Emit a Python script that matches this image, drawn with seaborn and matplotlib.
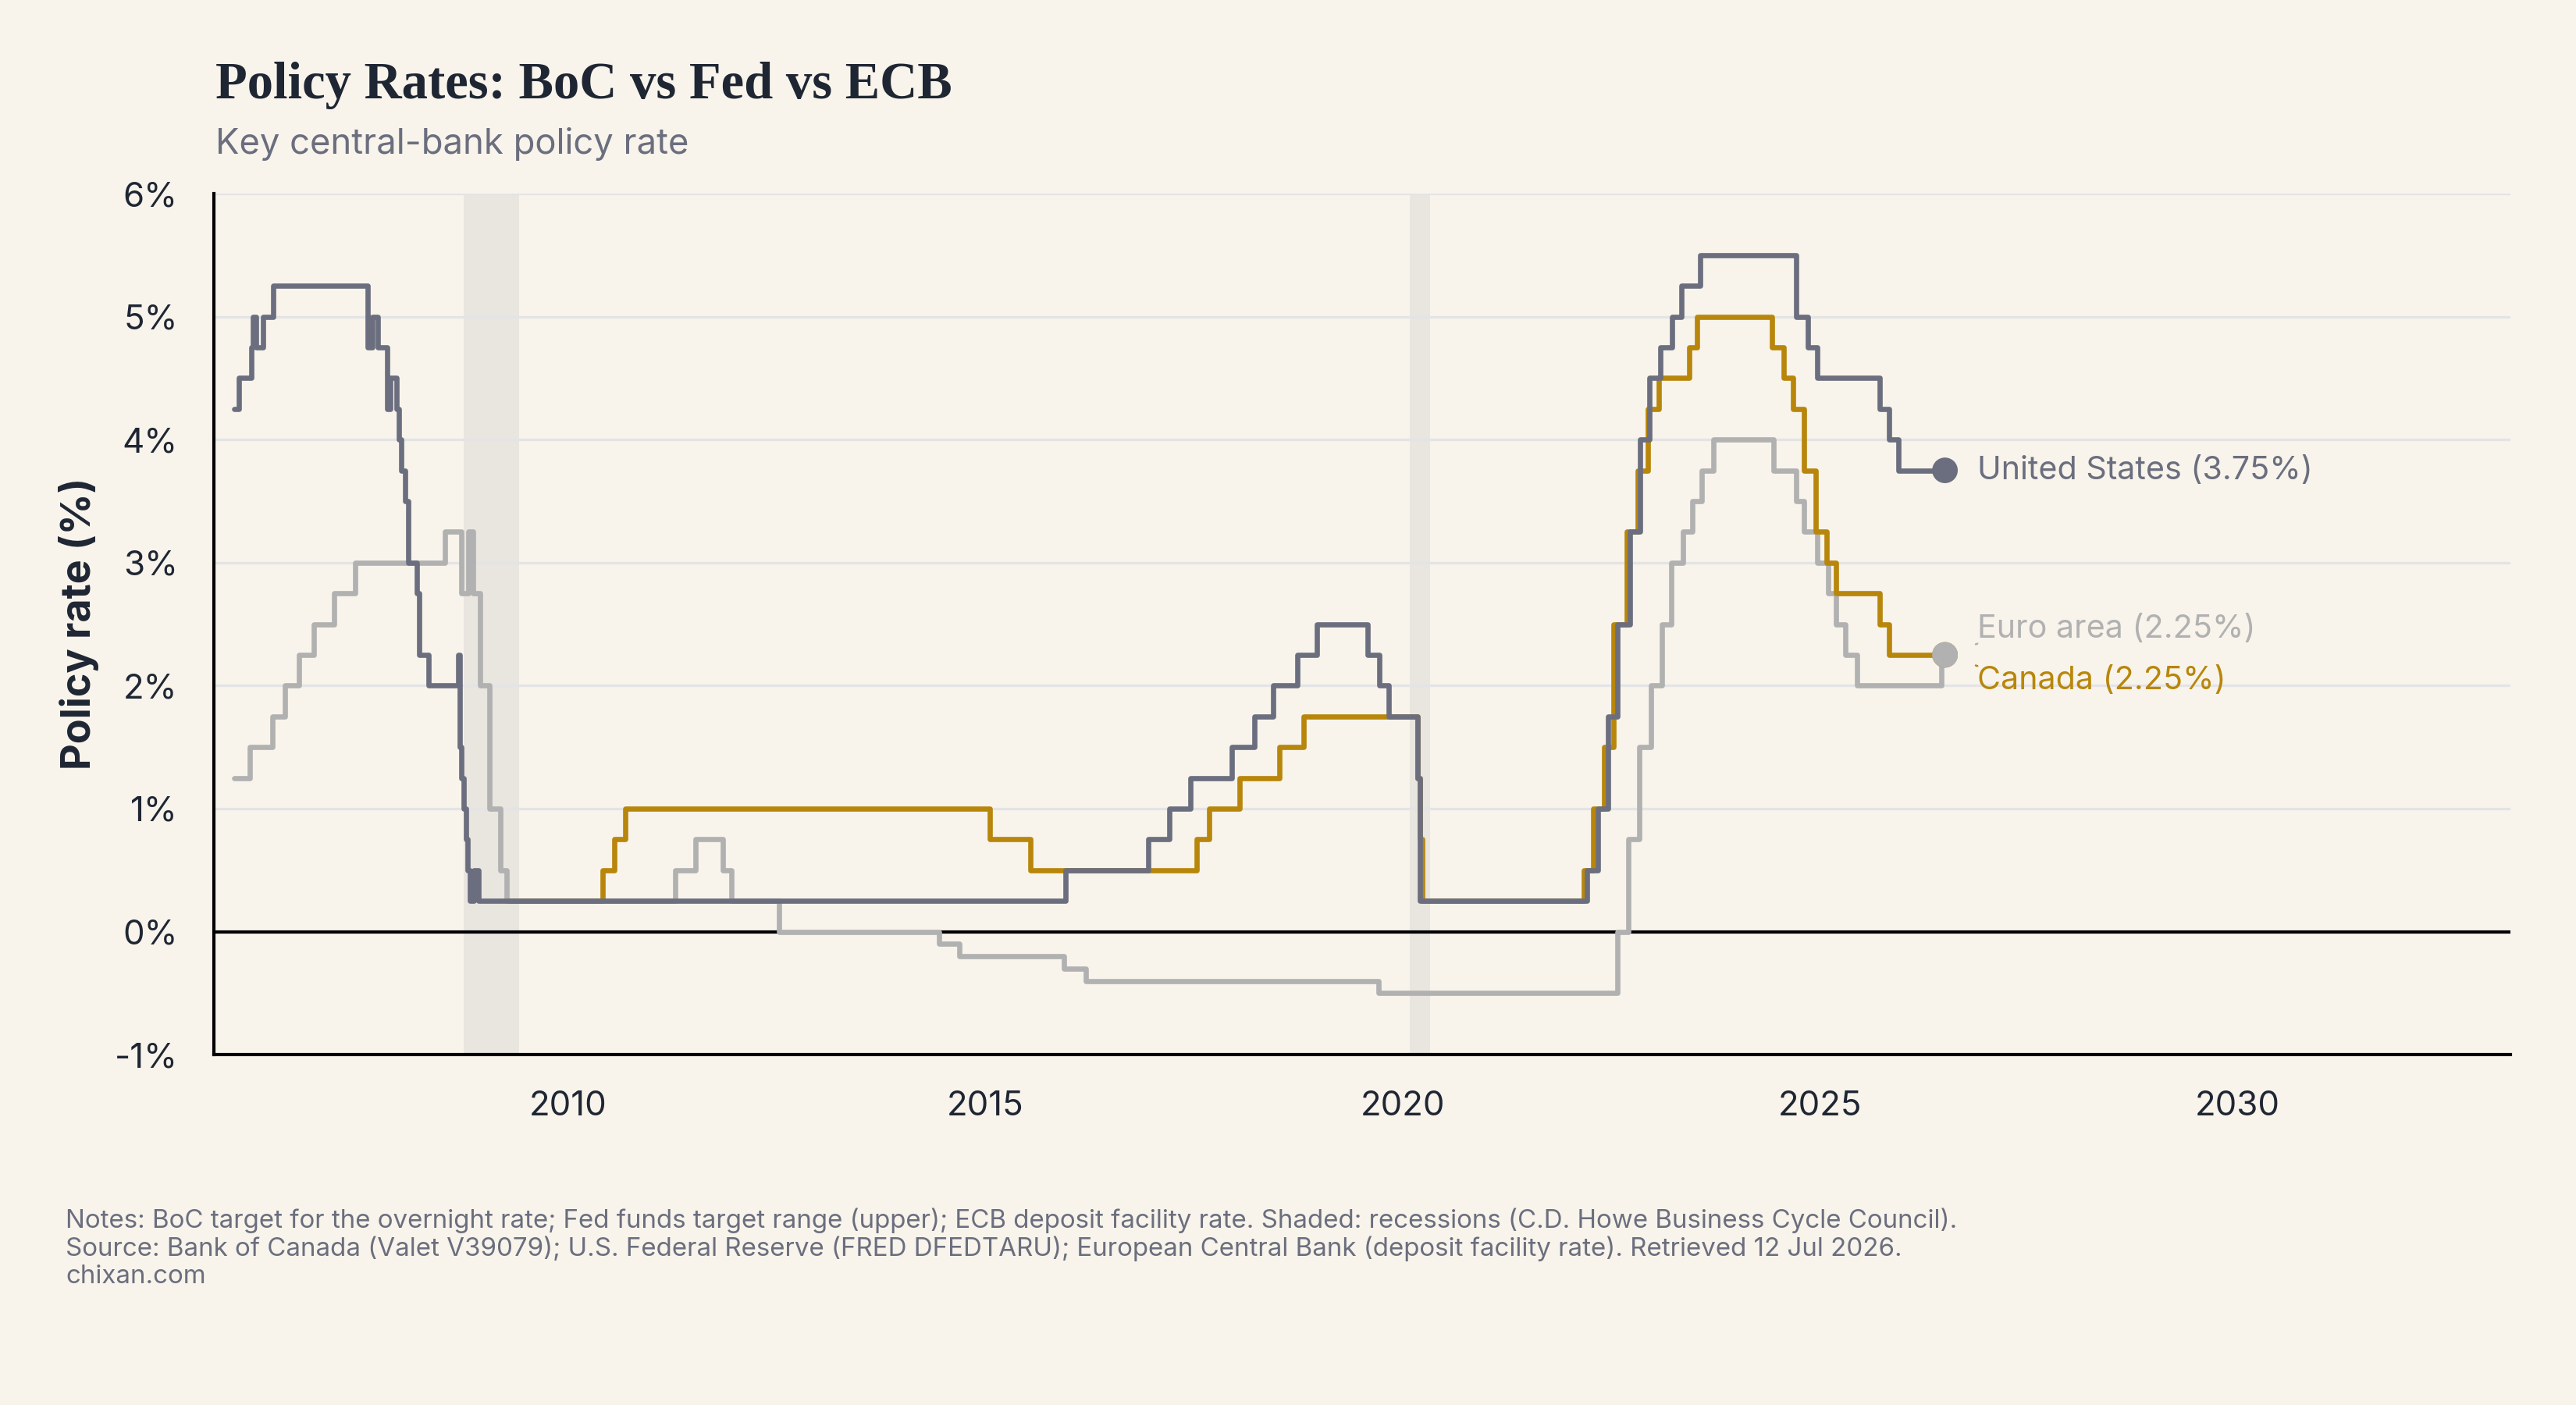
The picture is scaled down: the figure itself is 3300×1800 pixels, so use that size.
import matplotlib
matplotlib.use("Agg")
import matplotlib.pyplot as plt
import numpy as np
import pandas as pd
import seaborn as sns

# ---- data ----------------------------------------------------------------
us_dates = ['2006-01-01', '2006-01-22', '2006-03-15', '2006-03-23', '2006-04-05', '2006-05-05',
            '2006-06-18', '2007-08-08', '2007-08-26', '2007-09-20', '2007-10-31', '2007-11-14',
            '2007-12-10', '2007-12-21', '2008-01-01', '2008-01-19', '2008-01-30', '2008-03-08',
            '2008-03-18', '2008-04-30', '2008-09-08', '2008-09-12', '2008-09-20', '2008-10-01',
            '2008-10-12', '2008-10-19', '2008-10-27', '2008-11-13', '2008-12-06', '2015-12-17',
            '2016-12-15', '2017-03-16', '2017-06-15', '2017-12-14', '2018-03-22', '2018-06-14',
            '2018-09-27', '2018-12-20', '2019-08-01', '2019-09-19', '2019-10-31', '2020-03-04',
            '2020-03-16', '2022-03-17', '2022-05-05', '2022-06-16', '2022-07-28', '2022-09-22',
            '2022-11-03', '2022-12-15', '2023-02-02', '2023-03-23', '2023-05-04', '2023-07-27',
            '2024-09-19', '2024-11-08', '2024-12-19', '2025-09-18', '2025-10-30', '2025-12-11',
            '2026-07-01']
us_rates = [4.25, 4.50, 4.75, 5.00, 4.75, 5.00,
            5.25, 4.75, 5.00, 4.75, 4.25, 4.50,
            4.25, 4.00, 3.75, 3.50, 3.00, 2.75,
            2.25, 2.00, 2.25, 1.50, 1.25, 1.00,
            0.75, 0.50, 0.25, 0.50, 0.25, 0.50,
            0.75, 1.00, 1.25, 1.50, 1.75, 2.00,
            2.25, 2.50, 2.25, 2.00, 1.75, 1.25,
            0.25, 0.50, 1.00, 1.75, 2.50, 3.25,
            4.00, 4.50, 4.75, 5.00, 5.25, 5.50,
            5.00, 4.75, 4.50, 4.25, 4.00, 3.75,
            3.75]

ca_dates = ['2009-04-21', '2010-06-01', '2010-07-20', '2010-09-08', '2015-01-21', '2015-07-15',
            '2017-07-12', '2017-09-06', '2018-01-17', '2018-07-11', '2018-10-24', '2020-03-04',
            '2020-03-16', '2020-03-27', '2022-03-02', '2022-04-13', '2022-06-01', '2022-07-13',
            '2022-09-07', '2022-10-26', '2022-12-07', '2023-01-25', '2023-06-07', '2023-07-12',
            '2024-06-05', '2024-07-24', '2024-09-04', '2024-10-23', '2024-12-11', '2025-01-29',
            '2025-03-12', '2025-09-17', '2025-10-29', '2026-07-01']
ca_rates = [0.25, 0.50, 0.75, 1.00, 0.75, 0.50,
            0.75, 1.00, 1.25, 1.50, 1.75, 1.25,
            0.75, 0.25, 0.50, 1.00, 1.50, 2.50,
            3.25, 3.75, 4.25, 4.50, 4.75, 5.00,
            4.75, 4.50, 4.25, 3.75, 3.25, 3.00,
            2.75, 2.50, 2.25, 2.25]

ea_dates = ['2006-01-01', '2006-03-08', '2006-06-15', '2006-08-09', '2006-10-11', '2006-12-13',
            '2007-03-14', '2007-06-13', '2008-07-09', '2008-09-20', '2008-10-20', '2008-11-12',
            '2008-12-10', '2009-01-21', '2009-03-11', '2009-04-08', '2011-04-13', '2011-07-13',
            '2011-11-09', '2011-12-14', '2012-07-11', '2014-06-11', '2014-09-10', '2015-12-09',
            '2016-03-16', '2019-09-18', '2022-07-27', '2022-09-14', '2022-11-02', '2022-12-21',
            '2023-02-08', '2023-03-22', '2023-05-10', '2023-06-21', '2023-08-02', '2023-09-20',
            '2024-06-12', '2024-09-18', '2024-10-23', '2024-12-18', '2025-02-05', '2025-03-12',
            '2025-04-23', '2025-06-11', '2026-06-15', '2026-07-01']
ea_rates = [1.25, 1.50, 1.75, 2.00, 2.25, 2.50,
            2.75, 3.00, 3.25, 2.75, 3.25, 2.75,
            2.00, 1.00, 0.50, 0.25, 0.50, 0.75,
            0.50, 0.25, 0.00, -0.10, -0.20, -0.30,
            -0.40, -0.50, 0.00, 0.75, 1.50, 2.00,
            2.50, 3.00, 3.25, 3.50, 3.75, 4.00,
            3.75, 3.50, 3.25, 3.00, 2.75, 2.50,
            2.25, 2.00, 2.25, 2.25]

recessions = [('2008-10-01', '2009-05-31'), ('2020-02-01', '2020-04-30')]

series_names = ['Euro area', 'Canada', 'United States']
colors = {'United States': '#6b6e7e', 'Canada': '#b8860b', 'Euro area': '#b1b1b1'}

BG = '#f8f4eb'
INK = '#1f2633'
MUTED = '#6b6e7e'


def to_year(dates):
    d = pd.to_datetime(pd.Series(dates))
    days = np.where(d.dt.is_leap_year, 366, 365)
    return (d.dt.year + (d.dt.dayofyear - 1) / days).to_numpy()


frames = []
for name, dates, rates in [('Euro area', ea_dates, ea_rates),
                           ('Canada', ca_dates, ca_rates),
                           ('United States', us_dates, us_rates)]:
    frames.append(pd.DataFrame({'t': to_year(dates), 'rate': rates, 'series': name}))
df = pd.concat(frames, ignore_index=True)

sns.set_theme(style='white')
plt.rcParams['font.family'] = ['Inter', 'DejaVu Sans']
plt.rcParams['axes.facecolor'] = BG
plt.rcParams['figure.facecolor'] = BG

fig = plt.figure(figsize=(11, 6), dpi=300)
ax = fig.add_axes([0.0829, 0.2494, 0.8916, 0.6128])
ax.set_facecolor(BG)

for start, end in recessions:
    s, e = to_year([start, end])
    ax.axvspan(s, e, color='#e9e5df', lw=0, zorder=0)

for v in range(-1, 7):
    if v != 0:
        ax.axhline(v, color='#e4e4e6', lw=0.8, zorder=0.5)
ax.axhline(0, color='black', lw=1.0, zorder=1)

sns.lineplot(data=df, x='t', y='rate', hue='series', hue_order=series_names,
             palette=colors, drawstyle='steps-post', estimator=None,
             linewidth=1.6, legend=False, ax=ax, zorder=2)

# end dots, US first so the euro dot sits on top of Canada
ends = df.groupby('series').tail(1).set_index('series').loc[['United States', 'Canada', 'Euro area']].reset_index()
sns.scatterplot(data=ends, x='t', y='rate', hue='series', palette=colors,
                s=62, linewidth=0, legend=False, ax=ax, zorder=4)

label_offsets = {'United States': (10, 0, None), 'Euro area': (10, 8, (0, 0)),
                 'Canada': (10, -8, (0, 1))}
for _, row in ends.iterrows():
    name = row['series']
    dx, dy, rel = label_offsets[name]
    arrow = None
    if rel is not None:
        arrow = dict(arrowstyle='-', color=colors[name], lw=0.6, relpos=rel,
                     patchA=None, shrinkA=0, shrinkB=10)
    ax.annotate(f"{name} ({row['rate']:.2f}%)", xy=(row['t'], row['rate']),
                xytext=(dx, dy), textcoords='offset points', va='center', ha='left',
                fontsize=9.9, color=colors[name], arrowprops=arrow, zorder=5)

ax.set_xlim(2005.75, 2033.27)
ax.set_ylim(-1, 6)
ax.set_xticks([2010, 2015, 2020, 2025, 2030])
ax.set_yticks(range(-1, 7))
ax.set_yticklabels([f'{v}%' for v in range(-1, 7)])
ax.set_xlabel('')
ax.set_ylabel('')
ax.tick_params(axis='both', direction='out', length=6, width=1, color='black',
               labelsize=10.5, labelcolor=INK)
ax.tick_params(axis='x', pad=5)
ax.tick_params(axis='y', pad=5)
for side in ['top', 'right']:
    ax.spines[side].set_visible(False)
for side in ['left', 'bottom']:
    ax.spines[side].set_color('black')
    ax.spines[side].set_linewidth(1.0)

fig.text(0.0306, 0.556, 'Policy rate (%)', rotation=90, ha='center', va='center',
         fontsize=12.5, fontweight='bold', color=INK)

fig.text(0.0836, 0.930, 'Policy Rates: BoC vs Fed vs ECB', ha='left', va='baseline',
         fontsize=16, fontweight='bold', color=INK, family=['Liberation Serif', 'DejaVu Serif'])
fig.text(0.0836, 0.8907, 'Key central-bank policy rate', ha='left', va='baseline',
         fontsize=10.9, color=MUTED)

notes = [
    'Notes: BoC target for the overnight rate; Fed funds target range (upper); ECB deposit facility rate. '
    'Shaded: recessions (C.D. Howe Business Cycle Council).',
    'Source: Bank of Canada (Valet V39079); U.S. Federal Reserve (FRED DFEDTARU); '
    'European Central Bank (deposit facility rate). Retrieved 12 Jul 2026.',
    'chixan.com',
]
for i, line in enumerate(notes):
    fig.text(0.0255, 0.131 - i * 0.0197, line, ha='left', va='center', fontsize=7.95, color=MUTED)

fig.savefig('out.png', dpi=300, facecolor=BG)
